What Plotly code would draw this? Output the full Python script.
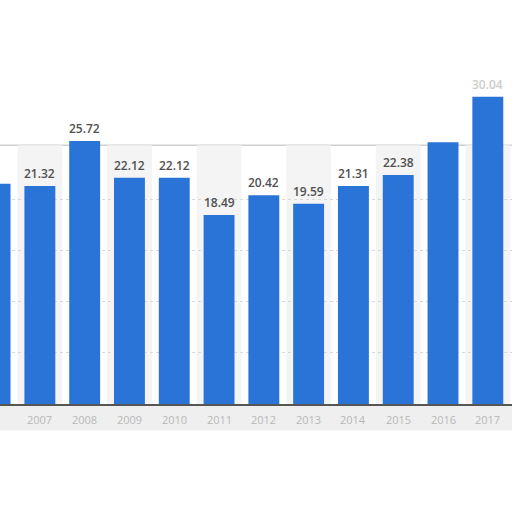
import plotly.graph_objects as go

years = [2006, 2007, 2008, 2009, 2010, 2011, 2012, 2013, 2014, 2015, 2016, 2017]
values = [21.54, 21.32, 25.72, 22.12, 22.12, 18.49, 20.42, 19.59, 21.31, 22.38, 25.6, 30.04]
labels = ["21.54", "21.32", "25.72", "22.12", "22.12", "18.49", "20.42", "19.59", "21.31", "22.38", "", "30.04"]
label_colors = ["#505050"] * 11 + ["#cccccc"]
grid_vals = [5, 10, 15, 20]

panel_top = 25.3
blue = "#2a73d7"

fig = go.Figure()
fig.add_trace(go.Bar(
    x=years, y=values, width=0.69,
    marker=dict(color=blue, line=dict(width=0)),
    hoverinfo="skip",
))

# value labels above the bars
for yr, v, lab, col in zip(years, values, labels, label_colors):
    if lab:
        fig.add_annotation(x=yr, y=v, text=lab, showarrow=False, yanchor="bottom", yshift=2,
                           font=dict(family="Open Sans", size=12, color=col, weight=600))
# category labels (the first one is cut at the left edge)
for yr in years:
    fig.add_annotation(x=yr, y=0, text=str(yr), showarrow=False, yanchor="top", yshift=-6,
                       font=dict(family="Open Sans", size=11, color="#b8b8b8"))

# alternating column bands in the panel
for yr in years:
    if yr % 2 == 1:
        fig.add_shape(type="rect", xref="x", yref="y", x0=yr - 0.5, x1=yr + 0.5,
                      y0=0, y1=panel_top, fillcolor="#f4f4f4", line=dict(width=0), layer="below")
# panel top border
fig.add_shape(type="line", xref="paper", yref="y", x0=0, x1=1, y0=panel_top, y1=panel_top,
              line=dict(color="#cfcfcf", width=1.5), layer="below")
# soft shadow under the baseline
fig.add_shape(type="rect", xref="paper", yref="paper", x0=0, x1=1, y0=-0.065, y1=0,
              fillcolor="#efefef", line=dict(width=0), layer="below")

fig.update_layout(
    width=512, height=512,
    margin=dict(l=0, r=0, t=0, b=108),
    paper_bgcolor="white", plot_bgcolor="rgba(0,0,0,0)",
    showlegend=False,
)
fig.update_xaxes(
    range=[2006.11, 2017.54], showticklabels=False,
    showgrid=False, showline=True, linecolor="#555555", linewidth=2,
    ticks="", zeroline=False,
)
fig.update_yaxes(
    range=[0, 39.5], tickvals=grid_vals, showticklabels=False,
    showgrid=True, gridcolor="#d8d8d8", griddash="dot", gridwidth=1,
    zeroline=False, showline=False,
)

fig.write_html("out.html", config={"displayModeBar": False},
               post_script="document.body.style.margin='0';")
